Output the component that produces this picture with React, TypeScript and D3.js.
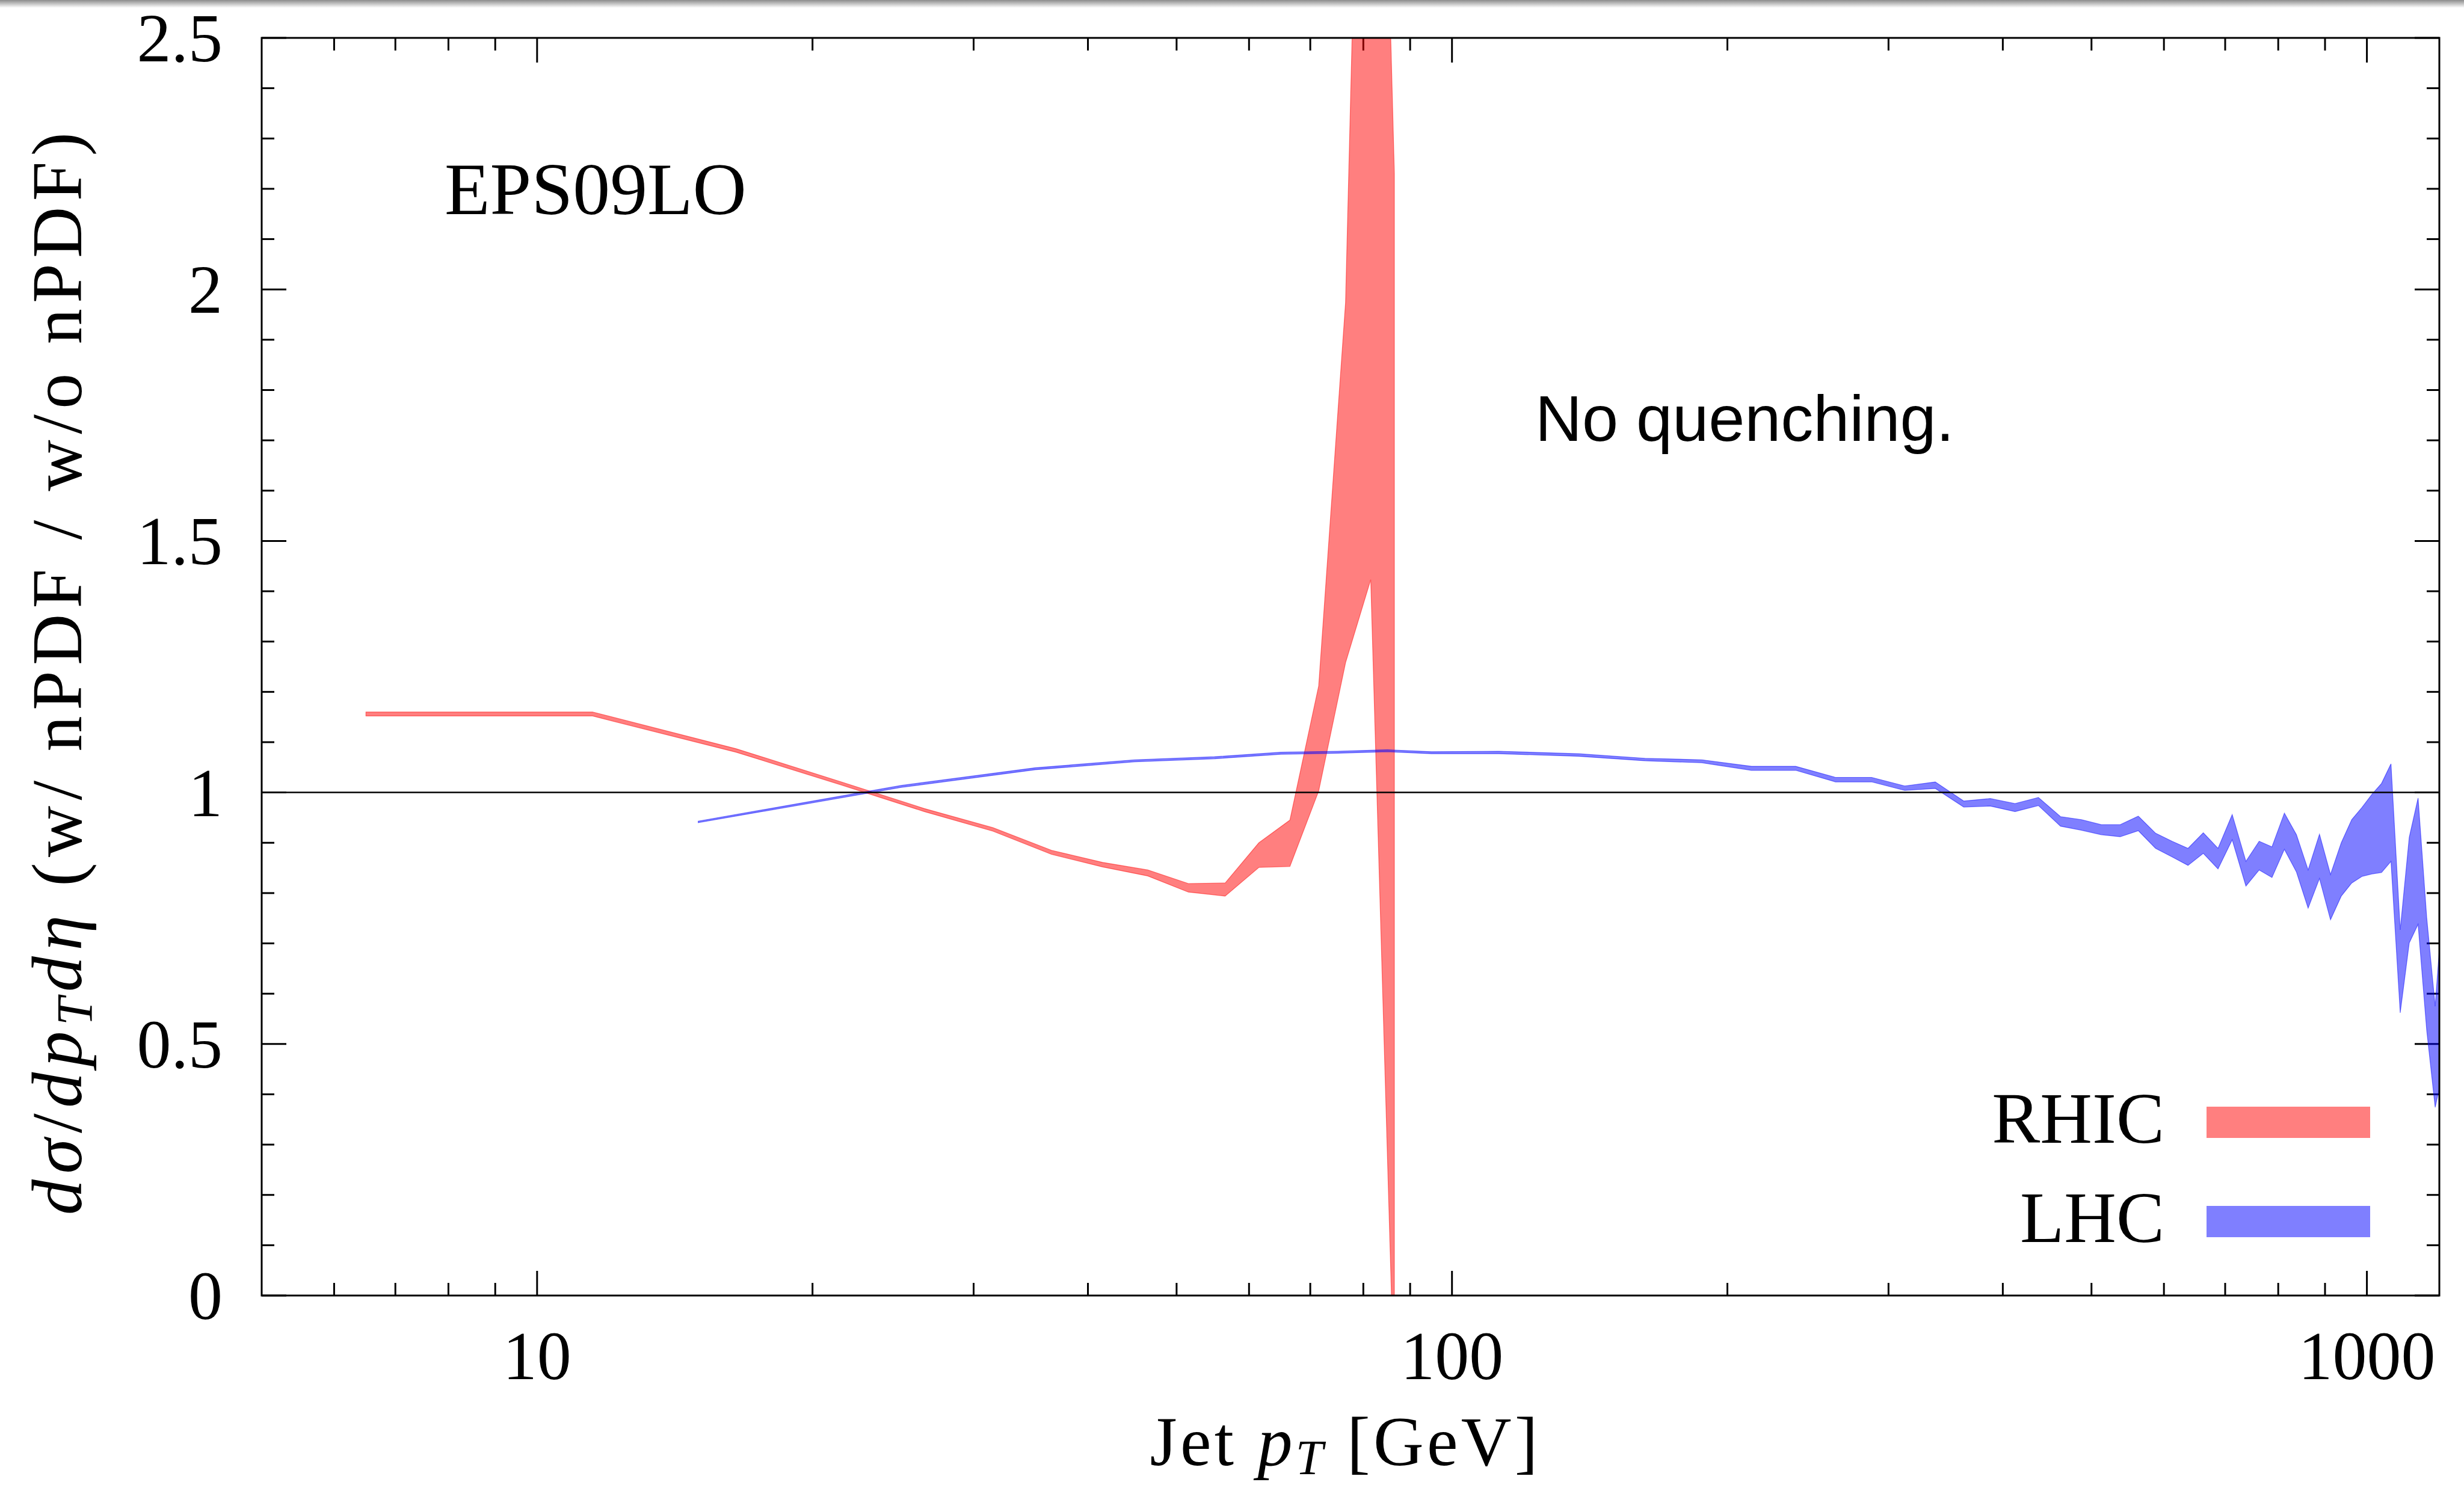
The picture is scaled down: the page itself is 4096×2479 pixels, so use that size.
import React from 'react';
import * as d3 from 'd3';

// ---- data ----
const rhicPt = [6.5, 11.5, 16.5, 21.5, 26.5, 31.5, 36.5, 41.5, 46.5, 51.5, 56.5, 61.5, 66.5, 71.5, 76.5, 81.5, 86.5];
const rhicLo = [1.152, 1.152, 1.080, 1.015, 0.962, 0.923, 0.877, 0.852, 0.834, 0.802, 0.794, 0.851, 0.853, 1.003, 1.258, 1.423, -0.2];
const rhicHi = [1.160, 1.160, 1.087, 1.021, 0.968, 0.930, 0.885, 0.861, 0.846, 0.819, 0.820, 0.900, 0.945, 1.212, 1.974, 4.0, 2.23];

const lhcPt = [15, 25, 35, 45, 55, 65, 75, 85, 95, 112.5, 137.5, 162.5, 187.5, 212.5, 237.5, 262.5, 287.5, 312.5, 337.5,
  362.5, 387.5, 412.5, 437.5, 462.5, 487.5, 512.5, 537.5, 562.5, 587.5, 612.5, 637.5, 662.5, 687.5, 712.5, 737.5, 762.5,
  787.5, 812.5, 837.5, 862.5, 887.5, 912.5, 937.5, 962.5, 987.5, 1012.5, 1037.5, 1062.5, 1087.5, 1112.5, 1137.5, 1162.5,
  1187.5, 1212.5];
const lhcLo = [0.940, 1.010, 1.045, 1.061, 1.067, 1.076, 1.078, 1.081, 1.077, 1.077, 1.072, 1.063, 1.059, 1.044, 1.044,
  1.021, 1.021, 1.004, 1.008, 0.971, 0.973, 0.962, 0.974, 0.933, 0.925, 0.916, 0.912, 0.924, 0.889, 0.872, 0.855, 0.879,
  0.848, 0.906, 0.814, 0.846, 0.831, 0.887, 0.842, 0.770, 0.829, 0.747, 0.794, 0.820, 0.833, 0.838, 0.841, 0.863, 0.562,
  0.701, 0.738, 0.527, 0.374, 0.45];
const lhcHi = [0.943, 1.014, 1.049, 1.065, 1.071, 1.080, 1.082, 1.085, 1.081, 1.082, 1.077, 1.068, 1.065, 1.052, 1.052,
  1.030, 1.030, 1.013, 1.021, 0.983, 0.988, 0.978, 0.990, 0.952, 0.946, 0.936, 0.936, 0.953, 0.919, 0.903, 0.889, 0.920,
  0.889, 0.956, 0.863, 0.903, 0.892, 0.959, 0.916, 0.846, 0.917, 0.837, 0.900, 0.946, 0.970, 0.996, 1.018, 1.057, 0.727,
  0.911, 0.989, 0.751, 0.575, 0.80];

const xTickValues = [10, 100, 1000];
const xTickLabels = ['10', '100', '1000'];
const yTickValues = [0, 0.5, 1, 1.5, 2, 2.5];
const yTickLabels = ['0', '0.5', '1', '1.5', '2', '2.5'];
const seriesNames = ['RHIC', 'LHC'];
const seriesColors = ['#ff0000', '#0000ff'];

export default function App() {
  const W = 4096, H = 2479;
  const L = 435, R = 4055, T = 63, B = 2154;
  const x = d3.scaleLog().domain([5, 1200]).range([L, R]);
  const y = d3.scaleLinear().domain([0, 2.5]).range([B, T]);

  const minorX: number[] = [];
  [1, 10, 100].forEach((dec) => {
    for (let k = 2; k <= 9; k++) {
      const v = k * dec;
      if (v > 5 && v < 1200) minorX.push(v);
    }
  });
  const minorY: number[] = [];
  for (let i = 1; i < 25; i++) if (i % 5 !== 0) minorY.push(i / 10);

  const rhic = rhicPt.map((p, i) => ({ p, lo: rhicLo[i], hi: rhicHi[i] }));
  const lhc = lhcPt.map((p, i) => ({ p, lo: lhcLo[i], hi: lhcHi[i] }));
  const area = d3.area<{ p: number; lo: number; hi: number }>()
    .x((d) => x(d.p))
    .y0((d) => y(d.lo))
    .y1((d) => y(d.hi));

  const serif = '"Liberation Serif", "Times New Roman", serif';
  const sans = '"Liberation Sans", Arial, sans-serif';
  const tickStroke = 3;
  const minorLen = 21, majorLen = 41;

  return (
    <svg width={W} height={H} viewBox={`0 0 ${W} ${H}`}
      style={{ position: 'absolute', left: 0, top: 0, display: 'block', background: '#fff' }}>
      <defs>
        <linearGradient id="topShade" x1="0" y1="0" x2="0" y2="1">
          <stop offset="0" stopColor="#8c8c8c" />
          <stop offset="1" stopColor="#ffffff" />
        </linearGradient>
        <clipPath id="plotClip">
          <rect x={L} y={T} width={R - L} height={B - T} />
        </clipPath>
      </defs>
      <rect x={0} y={0} width={W} height={H} fill="#fff" />
      <rect x={0} y={0} width={W} height={13} fill="url(#topShade)" />

      {/* ticks */}
      <g stroke="#000" strokeWidth={tickStroke}>
        {minorX.map((v) => (
          <g key={'mx' + v}>
            <line x1={x(v)} x2={x(v)} y1={B} y2={B - minorLen} />
            <line x1={x(v)} x2={x(v)} y1={T} y2={T + minorLen} />
          </g>
        ))}
        {xTickValues.map((v) => (
          <g key={'Mx' + v}>
            <line x1={x(v)} x2={x(v)} y1={B} y2={B - majorLen} />
            <line x1={x(v)} x2={x(v)} y1={T} y2={T + majorLen} />
          </g>
        ))}
        {minorY.map((v) => (
          <g key={'my' + v}>
            <line x1={L} x2={L + minorLen} y1={y(v)} y2={y(v)} />
            <line x1={R} x2={R - minorLen} y1={y(v)} y2={y(v)} />
          </g>
        ))}
        {yTickValues.map((v) => (
          <g key={'My' + v}>
            <line x1={L} x2={L + majorLen} y1={y(v)} y2={y(v)} />
            <line x1={R} x2={R - majorLen} y1={y(v)} y2={y(v)} />
          </g>
        ))}
      </g>

      {/* bands */}
      <g clipPath="url(#plotClip)">
        <path d={area(rhic) || ''} fill={seriesColors[0]} fillOpacity={0.5} stroke={seriesColors[0]} strokeOpacity={0.5} strokeWidth={1.2} />
        <path d={area(lhc) || ''} fill={seriesColors[1]} fillOpacity={0.5} stroke={seriesColors[1]} strokeOpacity={0.5} strokeWidth={1.2} />
      </g>

      {/* reference line at 1 */}
      <line x1={L} x2={R} y1={y(1)} y2={y(1)} stroke="#000" strokeWidth={2.5} />

      {/* frame */}
      <rect x={L} y={T} width={R - L} height={B - T} fill="none" stroke="#000" strokeWidth={3} />

      {/* tick labels */}
      <g fontFamily={serif} fontSize={114} fill="#000">
        {yTickValues.map((v, i) => (
          <text key={'yl' + v} x={370} y={y(v) + 39} textAnchor="end">{yTickLabels[i]}</text>
        ))}
        {xTickValues.map((v, i) => (
          <text key={'xl' + v} x={x(v)} y={2293} textAnchor="middle">{xTickLabels[i]}</text>
        ))}
      </g>

      {/* axis labels */}
      <text x={2234} y={2436} fontFamily={serif} fontSize={116} textAnchor="middle" textLength={645} lengthAdjust="spacing">
        <tspan>Jet </tspan>
        <tspan fontStyle="italic">p</tspan>
        <tspan fontStyle="italic" fontSize={82} dy={15}>T</tspan>
        <tspan dy={-15}> [GeV]</tspan>
      </text>
      <text transform="translate(135,1120) rotate(-90)" fontFamily={serif} fontSize={118} textAnchor="middle"
        textLength={1800} lengthAdjust="spacing">
        <tspan fontStyle="italic">dσ</tspan>
        <tspan>/</tspan>
        <tspan fontStyle="italic">dp</tspan>
        <tspan fontStyle="italic" fontSize={84} dy={18}>T</tspan>
        <tspan fontStyle="italic" dy={-18}>dη</tspan>
        <tspan> (w/ nPDF / w/o nPDF)</tspan>
      </text>

      {/* annotations */}
      <text x={739} y={356} fontFamily={serif} fontSize={123} textLength={502} lengthAdjust="spacingAndGlyphs">EPS09LO</text>
      <text x={2552} y={733} fontFamily={sans} fontSize={108}>No quenching.</text>

      {/* legend */}
      <g fontFamily={serif} fontSize={120}>
        <text x={3598} y={1900} textAnchor="end">{seriesNames[0]}</text>
        <rect x={3668} y={1840} width={272} height={52} fill={seriesColors[0]} fillOpacity={0.5} />
        <text x={3598} y={2065} textAnchor="end">{seriesNames[1]}</text>
        <rect x={3668} y={2005} width={272} height={52} fill={seriesColors[1]} fillOpacity={0.5} />
      </g>
    </svg>
  );
}
